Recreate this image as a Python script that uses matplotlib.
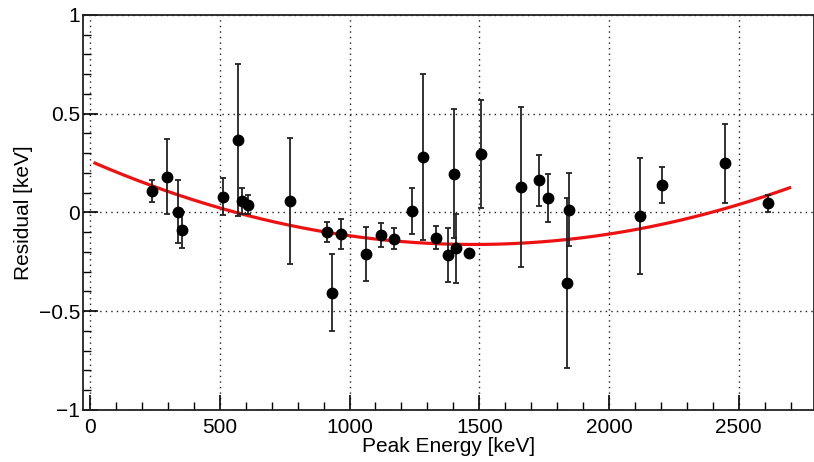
import numpy as np
import matplotlib
matplotlib.use("Agg")
import matplotlib.pyplot as plt
from matplotlib.ticker import MultipleLocator

# Data
energy = [240, 298, 340, 353, 514, 569, 585, 610, 771, 912, 934, 969, 1064,
          1122, 1173, 1240, 1282, 1334, 1379, 1401, 1410, 1460, 1506, 1662,
          1730, 1764, 1838, 1847, 2118, 2203, 2447, 2613]
residual = [0.108, 0.18, 0.004, -0.088, 0.08, 0.365, 0.057, 0.04, 0.057,
            -0.098, -0.407, -0.108, -0.209, -0.115, -0.132, 0.007, 0.282,
            -0.128, -0.216, 0.197, -0.182, -0.204, 0.297, 0.13, 0.162, 0.074,
            -0.356, 0.015, -0.019, 0.138, 0.248, 0.046]
error = [0.057, 0.19, 0.16, 0.09, 0.095, 0.385, 0.065, 0.05, 0.32, 0.05,
         0.195, 0.077, 0.137, 0.06, 0.055, 0.115, 0.42, 0.057, 0.135, 0.328,
         0.175, 0.0, 0.275, 0.405, 0.13, 0.12, 0.43, 0.185, 0.295, 0.09,
         0.2, 0.045]

# Quadratic fit coefficients (p0 + p1*x + p2*x^2) and range
fit_p = [0.2607, -5.72e-4, 1.935e-7]
fit_range = [19, 2696]

plt.rcParams['font.family'] = ['Liberation Sans', 'DejaVu Sans']

fig = plt.figure(figsize=(8.14, 4.62), dpi=100)
ax = fig.add_axes([0.102, 0.1126, 0.898, 0.855])

ax.grid(True, which='major', linestyle=(0, (1, 3)), color='#222222', linewidth=1.0)
ax.set_axisbelow(True)

xf = np.linspace(fit_range[0], fit_range[1], 400)
yf = fit_p[0] + fit_p[1] * xf + fit_p[2] * xf ** 2
ax.plot(xf, yf, color='#ee1111', linewidth=2.3, zorder=2)

ax.errorbar(energy, residual, yerr=error, fmt='o', color='black', ecolor='#222222',
            markersize=7.5, elinewidth=1.3, capsize=2.0, capthick=1.3, zorder=3)

ax.set_xlim(-27, 2790)
ax.set_ylim(-1, 1)
ax.xaxis.set_major_locator(MultipleLocator(500))
ax.xaxis.set_minor_locator(MultipleLocator(100))
ax.yaxis.set_major_locator(MultipleLocator(0.5))
ax.yaxis.set_minor_locator(MultipleLocator(0.1))
ax.set_yticks([-1, -0.5, 0, 0.5, 1])
ax.set_yticklabels(['\u22121', '\u22120.5', '0', '0.5', '1'])

ax.tick_params(axis='both', which='both', direction='in', top=False, right=False,
               labelsize=15, colors='black')
ax.tick_params(axis='both', which='major', length=11, width=1.2)
ax.tick_params(axis='both', which='minor', length=5.5, width=1.0)
ax.tick_params(axis='y', pad=2)
ax.tick_params(axis='x', pad=6)

for s in ax.spines.values():
    s.set_linewidth(1.3)
    s.set_color('#222222')

ax.set_xlabel('Peak Energy [keV]', fontsize=15, labelpad=0)
ax.set_ylabel('Residual [keV]', fontsize=15, labelpad=4)

fig.savefig('out.png', dpi=100)
